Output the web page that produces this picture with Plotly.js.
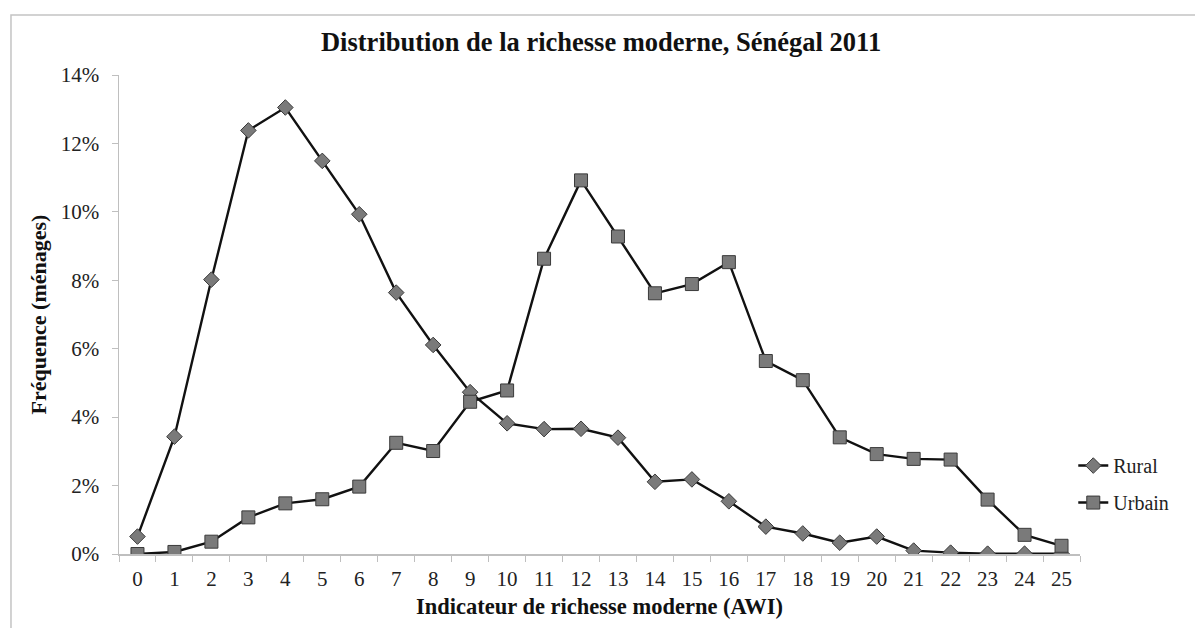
<!DOCTYPE html>
<html>
<head>
<meta charset="utf-8">
<script src="https://cdn.plot.ly/plotly-3.0.1.min.js"></script>
<style>
html,body{margin:0;padding:0;background:#fff;}
#chart{width:1195px;height:628px;}
</style>
</head>
<body>
<div id="chart"></div>
<script>
var categories = ["0","1","2","3","4","5","6","7","8","9","10","11","12","13","14","15","16","17","18","19","20","21","22","23","24","25"];
var rural = [0.0051,0.0343,0.0802,0.1238,0.1305,0.1149,0.0993,0.0764,0.0611,0.0473,0.0382,0.0365,0.0366,0.0340,0.0211,0.0218,0.0154,0.0080,0.0060,0.0033,0.0051,0.0010,0.0004,0.0001,0.0001,0.0001];
var urbain = [0.0000,0.0006,0.0036,0.0107,0.0148,0.0160,0.0197,0.0325,0.0301,0.0445,0.0478,0.0863,0.1092,0.0928,0.0762,0.0789,0.0853,0.0564,0.0508,0.0341,0.0292,0.0278,0.0276,0.0159,0.0056,0.0024];
var seriesNames = ["Rural","Urbain"];
var yTicks = [0,0.02,0.04,0.06,0.08,0.10,0.12,0.14];

var serif = "Liberation Serif, Times New Roman, serif";
var traces = [
  {x: categories, y: rural, name: seriesNames[0], type: "scatter", mode: "lines+markers",
   legendgroup: "a",
   line: {color: "#111111", width: 2.4},
   marker: {symbol: "diamond", size: 12, color: "#7a7a7a", line: {color: "#3a3a3a", width: 1}}},
  {x: categories, y: urbain, name: seriesNames[1], type: "scatter", mode: "lines+markers",
   legendgroup: "b",
   line: {color: "#111111", width: 2.4},
   marker: {symbol: "square", size: 13, color: "#7a7a7a", line: {color: "#3a3a3a", width: 1}}}
];

var layout = {
  width: 1195, height: 628,
  paper_bgcolor: "#ffffff", plot_bgcolor: "#ffffff",
  margin: {l: 119, r: 115, t: 75, b: 74, pad: 0},
  font: {family: serif, size: 20, color: "#222222"},
  title: {text: "<b>Distribution de la richesse moderne, Sénégal 2011</b>",
          font: {family: serif, size: 26.5, color: "#111111"},
          x: 0.503, xanchor: "center", y: 0.933, yanchor: "middle"},
  xaxis: {
    type: "category", range: [-0.5, 25.5],
    tickson: "boundaries", ticks: "outside", ticklen: 6, tickcolor: "#bfbfbf", tickwidth: 1,
    showline: true, linecolor: "#bfbfbf", linewidth: 1.5,
    showgrid: false, zeroline: false, ticklabelstandoff: 5,
    tickfont: {family: serif, size: 21, color: "#222222"},
    title: {text: "<b>Indicateur de richesse moderne (AWI)</b>",
            font: {family: serif, size: 22.5, color: "#111111"}, standoff: 8}
  },
  yaxis: {
    range: [0, 0.14], tickvals: yTicks, tickformat: ".0%",
    ticks: "outside", ticklen: 6, tickcolor: "#bfbfbf", tickwidth: 1,
    showline: true, linecolor: "#bfbfbf", linewidth: 1.5,
    showgrid: false, zeroline: false, ticklabelstandoff: 8,
    tickfont: {family: serif, size: 21, color: "#222222"},
    title: {text: "<b>Fréquence (ménages)</b>",
            font: {family: serif, size: 22, color: "#111111"}, standoff: 8}
  },
  showlegend: true,
  legend: {x: 0.993, xanchor: "left", y: 0.146, yanchor: "middle",
           font: {family: serif, size: 20, color: "#222222"},
           traceorder: "grouped", tracegroupgap: 8, itemwidth: 30,
           bgcolor: "rgba(0,0,0,0)"},
  shapes: [
    {type: "rect", xref: "paper", yref: "paper",
     x0: -0.1124, x1: 1.3, y0: -0.3, y1: 1.1253,
     line: {color: "#c4c4c4", width: 1.5}, fillcolor: "rgba(0,0,0,0)", layer: "below"}
  ]
};

Plotly.newPlot("chart", traces, layout, {displayModeBar: false, staticPlot: true});
</script>
</body>
</html>
